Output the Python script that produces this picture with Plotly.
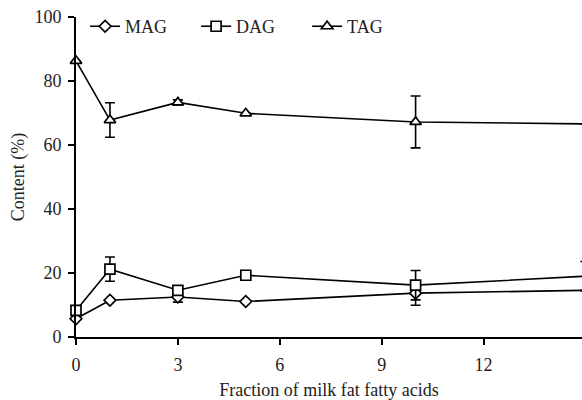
import plotly.graph_objects as go

x_vals = [0, 1, 3, 5, 10, 15]
mag = [5.7, 11.5, 12.5, 11.1, 13.7, 14.6]
mag_err = [0, 0, 1.6, 0, 3.8, 0]
dag = [8.3, 21.2, 14.6, 19.3, 16.2, 19.0]
dag_err = [0, 3.8, 0, 0, 4.6, 4.6]
tag = [86.3, 67.8, 73.3, 69.9, 67.2, 66.6]
tag_err = [0, 5.4, 0.8, 0, 8.1, 0]

x_ticks = [0, 3, 6, 9, 12]
y_ticks = [0, 20, 40, 60, 80, 100]

font_family = "Liberation Serif, Times New Roman, serif"
fs = 18
fig = go.Figure()

series = [
    ("MAG", mag, mag_err, "diamond", 9),
    ("DAG", dag, dag_err, "square", 10),
    ("TAG", tag, tag_err, "triangle-up", 10),
]
for name, ys, err, sym, sz in series:
    fig.add_trace(go.Scatter(
        x=x_vals, y=ys, name=name, mode="lines+markers",
        line=dict(color="black", width=1.6),
        marker=dict(symbol=sym, size=sz, color="white",
                    line=dict(color="black", width=1.7)),
        error_y=dict(type="data", array=err, visible=True,
                     color="black", thickness=1.6, width=5),
        cliponaxis=False,
    ))

fig.update_layout(
    width=582, height=400,
    margin=dict(l=76, r=0, t=17, b=63),
    paper_bgcolor="white", plot_bgcolor="white",
    font=dict(family=font_family, color="#222", size=fs),
    showlegend=True,
    legend=dict(orientation="h", x=0.018, y=1.028, xanchor="left", yanchor="top",
                font=dict(size=fs, family=font_family), bgcolor="rgba(0,0,0,0)",
                entrywidth=66, entrywidthmode="pixels", tracegroupgap=0),
    xaxis=dict(range=[0, 14.9], tickvals=x_ticks, showgrid=False, zeroline=False,
               showline=True, linecolor="black", linewidth=1.6, automargin=False,
               ticks="outside", ticklen=6, tickwidth=1.6, tickcolor="black",
               ticklabelstandoff=5,
               tickfont=dict(size=fs, family=font_family),
               title=dict(text="Fraction of milk fat fatty acids",
                          font=dict(size=fs, family=font_family), standoff=15)),
    yaxis=dict(range=[0, 100], tickvals=y_ticks, showgrid=False, zeroline=False,
               showline=True, linecolor="black", linewidth=1.6, automargin=False,
               ticks="outside", ticklen=6, tickwidth=1.6, tickcolor="black",
               ticklabelstandoff=3,
               tickfont=dict(size=fs, family=font_family),
               title=dict(text="Content (%)", font=dict(size=fs, family=font_family),
                          standoff=5)),
)

fig.write_html("out.html")
